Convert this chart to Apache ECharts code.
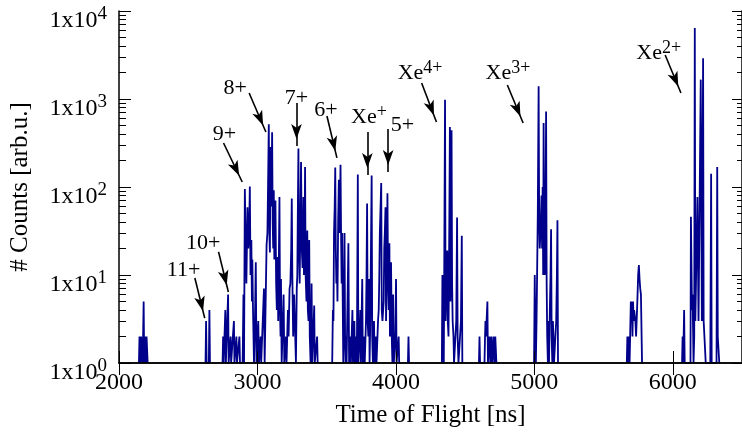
<!DOCTYPE html>
<html>
<head>
<meta charset="utf-8">
<script src="https://cdn.jsdelivr.net/npm/echarts@6/dist/echarts.min.js"></script>
<style>
  html, body { margin: 0; padding: 0; background: #fff; }
  #chart { width: 742px; height: 436px; }
</style>
</head>
<body>
<div id="chart"></div>
<script>
// [time of flight ns, counts], one list per group of peaks
const grpLow = [[2144,1],[2148,2],[2152,2],[2156,1],[2160,2],[2165,2],[2170,1],[2174,2],[2178,5],[2182,1],[2186,2],[2190,2],[2195,1],[2199,2],[2203,2],[2207,1]];
const grp11 = [[2625,1],[2629,3],[2633,1],[2649,1],[2653,4],[2657,1]];
const grp10to7 = [
  [2748,1],[2752,2],[2756,1],[2764,1],[2768,4],[2772,1],[2776,1],[2788,6],[2792,1],[2802,1],[2806,2],[2810,1],
  [2824,1],[2830,3],[2834,1],[2844,1],[2848,2],[2852,1],[2866,1],[2870,2],[2874,1],[2893,1],[2899,6],[2903,1],
  [2906,1],[2909,95],[2914,30],[2920,8],[2928,59],[2934,20],[2940,30],[2945,101],[2950,10],[2956,25],[2960,5],
  [2963,15],[2968,4],[2975,1],[2982,3],[2988,14],[2993,1],[2999,1],[3006,3],[3011,1],[3018,1],[3023,2],[3027,1],
  [3040,1],[3047,7],[3052,1],[3058,1],[3066,22],[3072,30],[3078,150],[3082,517],[3086,30],[3090,18],[3094,284],
  [3098,60],[3102,100],[3106,420],[3110,40],[3114,20],[3118,92],[3122,15],[3126,20],[3130,70],[3135,8],[3140,4],
  [3146,16],[3150,3],[3154,12],[3159,77],[3163,4],[3167,2],[3170,9],[3175,1],[3180,1],[3189,6],[3194,1],[3200,1],
  [3206,2],[3210,1],[3215,1],[3220,4],[3225,2],[3232,7],[3238,8],[3244,20],[3248,74],[3252,10],[3258,2],[3265,6],
  [3270,3],[3278,1],[3284,7],[3288,10],[3292,60],[3296,274],[3300,20],[3305,8],[3310,40],[3315,192],[3320,20],
  [3326,12],[3332,77],[3336,10],[3340,20],[3344,169],[3348,10],[3354,5],[3360,32],[3364,4],[3369,3],[3374,25],
  [3378,2],[3384,1],[3391,8],[3396,1],[3403,1],[3410,4.5],[3414,1],[3427,1],[3431,2],[3435,1]
];
const grp6to5 = [
  [3540,1],[3545,4],[3549,3],[3553,30],[3558,60],[3562,166],[3566,20],[3570,8],[3574,13],[3578,5],[3583,40],
  [3588,121],[3592,30],[3596,50],[3600,179],[3604,30],[3608,8],[3612,30],[3616,5],[3620,1],[3625,3],[3629,30],
  [3633,2],[3637,1],[3640,2],[3644,1],[3650,1],[3657,23],[3662,1],[3666,1],[3671,2],[3675,1],[3681,1],[3686,4],
  [3690,1],[3695,1],[3700,3],[3704,1],[3709,1],[3714,2],[3718,1],[3721,1],[3725,139],[3729,1],[3733,1],[3738,2],
  [3743,4],[3747,1],[3752,1],[3757,9],[3761,1],[3766,1],[3770,2],[3775,1],[3779,1],[3784,3],[3788,10],[3792,65],
  [3796,3],[3801,2],[3806,9],[3810,1],[3815,3],[3820,20],[3825,135],[3829,2],[3834,1],[3838,2],[3842,3],[3846,1],
  [3851,1],[3856,2],[3860,1],[3866,1],[3871,3],[3876,4],[3880,9],[3884,30],[3888,50],[3894,111],[3898,4],[3903,3],
  [3908,3],[3912,5],[3916,20],[3920,30],[3925,59],[3929,3],[3934,10],[3939,85],[3943,10],[3948,4],[3953,23],
  [3957,2],[3961,7],[3965,14],[3970,2],[3975,1],[3980,6],[3985,1],[3990,1],[3996,2],[4001,9],[4005,1],[4010,1],
  [4020,2],[4024,1]
];
const grpSingle = [[4087,1],[4091,2],[4095,1]];
const grpXe4 = [
  [4332,1],[4336,10],[4340,2],[4346,1],[4350,20],[4355,983],[4359,3],[4363,5],[4367,10],[4371,19],[4375,3],
  [4380,2],[4386,40],[4390,480],[4394,5],[4398,30],[4402,440],[4406,8],[4410,3],[4416,2],[4420,1],[4430,1],
  [4436,3],[4442,45],[4446,2],[4452,1],[4460,1],[4470,3],[4476,28],[4480,1]
];
const grpMid = [
  [4600,1],[4604,2],[4608,1],[4640,1],[4644,2],[4647,3],[4651,2],[4655,3],[4661,5],[4665,1],[4670,1],[4674,2],
  [4678,2],[4682,1],[4688,2],[4692,2],[4696,1],[4704,2],[4708,2],[4712,1],[4718,2],[4722,2],[4726,1]
];
const grpXe3 = [
  [4998,1],[5003,10],[5007,2],[5011,1],[5016,3],[5020,10],[5025,50],[5031,1400],[5035,40],[5039,20],[5044,30],
  [5048,30],[5052,80],[5056,20],[5060,100],[5064,10],[5067,535],[5071,30],[5075,10],[5079,15],[5085,720],[5089,8],
  [5093,2],[5098,1],[5102,3],[5106,1],[5112,4],[5117,10],[5121,33],[5125,2],[5130,1],[5134,3],[5138,2],[5142,1],
  [5150,1],[5158,3],[5163,10],[5167,42],[5171,1]
];
const grpHump = [
  [5668,1],[5672,2],[5676,1],[5679,2],[5683,2],[5688,1],[5692,2],[5697,5],[5701,3],[5705,5],[5709,2],[5713,5],
  [5717,3],[5721,4],[5726,4],[5730,3],[5735,2],[5739,2],[5744,5],[5750,10],[5755,13],[5760,9],[5765,7],[5770,6],
  [5774,6],[5778,1]
];
const grpXe2 = [
  [6067,1],[6071,2],[6075,1],[6078,1],[6082,4],[6086,1],[6128,1],[6131,46],[6135,46],[6139,4],[6143,6],[6146,6],
  [6150,1],[6155,2],[6159,6400],[6163,3],[6167,3],[6171,3],[6178,77],[6182,77],[6186,3],[6190,3],[6194,3],
  [6202,1660],[6206,1660],[6210,3],[6214,3],[6219,2900],[6223,3],[6227,3],[6234,3],[6238,1],[6271,1],[6277,141],
  [6281,1],[6316,1],[6321,169],[6325,2],[6330,2],[6336,1]
];
const groups = [grpLow, grp11, grp10to7, grp6to5, grpSingle, grpXe4, grpMid, grpXe3, grpHump, grpXe2];

// peak annotations: [main text, superscript], label position, arrow start, arrow tip
const peakNames = [['11+',''],['10+',''],['9+',''],['8+',''],['7+',''],['6+',''],['Xe','+'],['5+',''],['Xe','4+'],['Xe','3+'],['Xe','2+']];
const labelAt = [[2466,12.3],[2609,25],[2762,433],[2840,1443],[3282,1110],[3495,811],[3805,675],[4047,555],[4175,2136],[4809,2136],[5898,3606]];
const arrowFrom = [[2548,9.25],[2719,18.3],[2755,316],[2940,1170],[3282,901],[3502,641],[3794,422],[3944,456],[4186,1520],[4805,1443],[5945,3162]];
const arrowTo = [[2619,3.24],[2790,6.4],[2890,114],[3061,422],[3282,292],[3574,214],[3794,137],[3944,148],[4293,548],[4919,533],[6059,1170]];

const xTicks = [2000, 3000, 4000, 5000, 6000];
const minorSteps = [2, 3, 4, 5, 6, 7, 8, 9];
const decades = [0, 1, 2, 3];

const FONT = 'Liberation Serif';
const minorPos = [];
decades.forEach(d => minorSteps.forEach(k => minorPos.push(d + Math.log10(k))));

const richAxis = {
  m: { fontSize: 24, lineHeight: 24, padding: [7, 0, 0, 0], fontFamily: FONT, color: '#000' },
  s: { fontSize: 19, lineHeight: 19, verticalAlign: 'top', fontFamily: FONT, color: '#000' }
};
const richNote = {
  m: { fontSize: 22, lineHeight: 22, padding: [7, 0, 0, 0], fontFamily: FONT, color: '#000' },
  s: { fontSize: 18, lineHeight: 18, verticalAlign: 'top', fontFamily: FONT, color: '#000' }
};

const chart = echarts.init(document.getElementById('chart'), null, { renderer: 'canvas' });

const frameLine = { show: true, lineStyle: { color: '#000', width: 1.5 } };

const series = groups.map(g => ({
  type: 'line',
  data: g,
  showSymbol: false,
  symbol: 'none',
  lineStyle: { color: '#00008b', width: 1.8 },
  itemStyle: { color: '#00008b' },
  silent: true,
  z: 2
}));

series[0].markLine = {
  silent: true,
  symbol: ['none', 'arrow'],
  label: { show: false },
  lineStyle: { color: '#000', width: 1.6, type: 'solid' },
  itemStyle: { color: '#000' },
  emphasis: { disabled: true },
  data: arrowFrom.map((p, i) => [
    { coord: p },
    { coord: arrowTo[i], symbol: 'arrow', symbolSize: [8, 15], symbolOffset: [0, 7] }
  ])
};
series[0].markPoint = {
  silent: true,
  symbol: 'rect',
  symbolSize: 1,
  itemStyle: { color: 'rgba(0,0,0,0)' },
  data: peakNames.map((n, i) => ({
    coord: labelAt[i],
    label: {
      show: true,
      position: 'inside',
      formatter: n[1] ? `{m|${n[0]}}{s|${n[1]}}` : `{m|${n[0]}}`,
      rich: richNote
    }
  }))
};

chart.setOption({
  animation: false,
  backgroundColor: '#fff',
  grid: { left: 116, top: 11, width: 632, height: 352, containLabel: false },
  xAxis: [
    {
      type: 'value', position: 'bottom', min: 2000, max: 6500, interval: 1000, z: 5,
      name: 'Time of Flight [ns]', nameLocation: 'middle', nameGap: 40,
      nameTextStyle: { fontFamily: FONT, fontSize: 25, color: '#000' },
      axisLine: frameLine,
      axisTick: { show: true, inside: true, length: 12, lineStyle: { color: '#000', width: 1 } },
      axisLabel: {
        fontFamily: FONT, fontSize: 24, color: '#000', margin: 8, showMaxLabel: false,
        formatter: v => (xTicks.indexOf(v) >= 0 ? String(v) : '')
      },
      splitLine: { show: false }
    },
    {
      type: 'value', position: 'top', min: 2000, max: 6500, interval: 1000, z: 5,
      axisLine: frameLine,
      axisTick: { show: true, inside: true, length: 12, lineStyle: { color: '#000', width: 1 } },
      axisLabel: { show: false },
      splitLine: { show: false }
    }
  ],
  yAxis: [
    {
      type: 'log', logBase: 10, min: 1, max: 10000, position: 'left', z: 5,
      name: '# Counts [arb.u.]', nameLocation: 'middle', nameGap: 86, nameRotate: 90,
      nameTextStyle: { fontFamily: FONT, fontSize: 25, color: '#000' },
      axisLine: frameLine,
      axisTick: { show: true, inside: true, length: 12, lineStyle: { color: '#000', width: 1 } },
      axisLabel: {
        margin: 12,
        padding: [12, 0, 0, 0],
        formatter: v => `{m|1x10}{s|${Math.round(Math.log10(v))}}`,
        rich: richAxis
      },
      splitLine: { show: false }
    },
    {
      type: 'log', logBase: 10, min: 1, max: 10000, position: 'right', z: 5,
      axisLine: frameLine,
      axisTick: { show: true, inside: true, length: 10, lineStyle: { color: '#000', width: 1 } },
      axisLabel: { show: false },
      splitLine: { show: false }
    },
    {
      type: 'value', min: 0, max: 4, position: 'left', z: 5,
      axisLine: { show: false },
      axisTick: { show: true, inside: true, length: 7, customValues: minorPos, lineStyle: { color: '#000', width: 1 } },
      axisLabel: { show: false },
      splitLine: { show: false }
    },
    {
      type: 'value', min: 0, max: 4, position: 'right', z: 5,
      axisLine: { show: false },
      axisTick: { show: true, inside: true, length: 5, customValues: minorPos, lineStyle: { color: '#000', width: 1 } },
      axisLabel: { show: false },
      splitLine: { show: false }
    }
  ],
  series: series
});
</script>
</body>
</html>
